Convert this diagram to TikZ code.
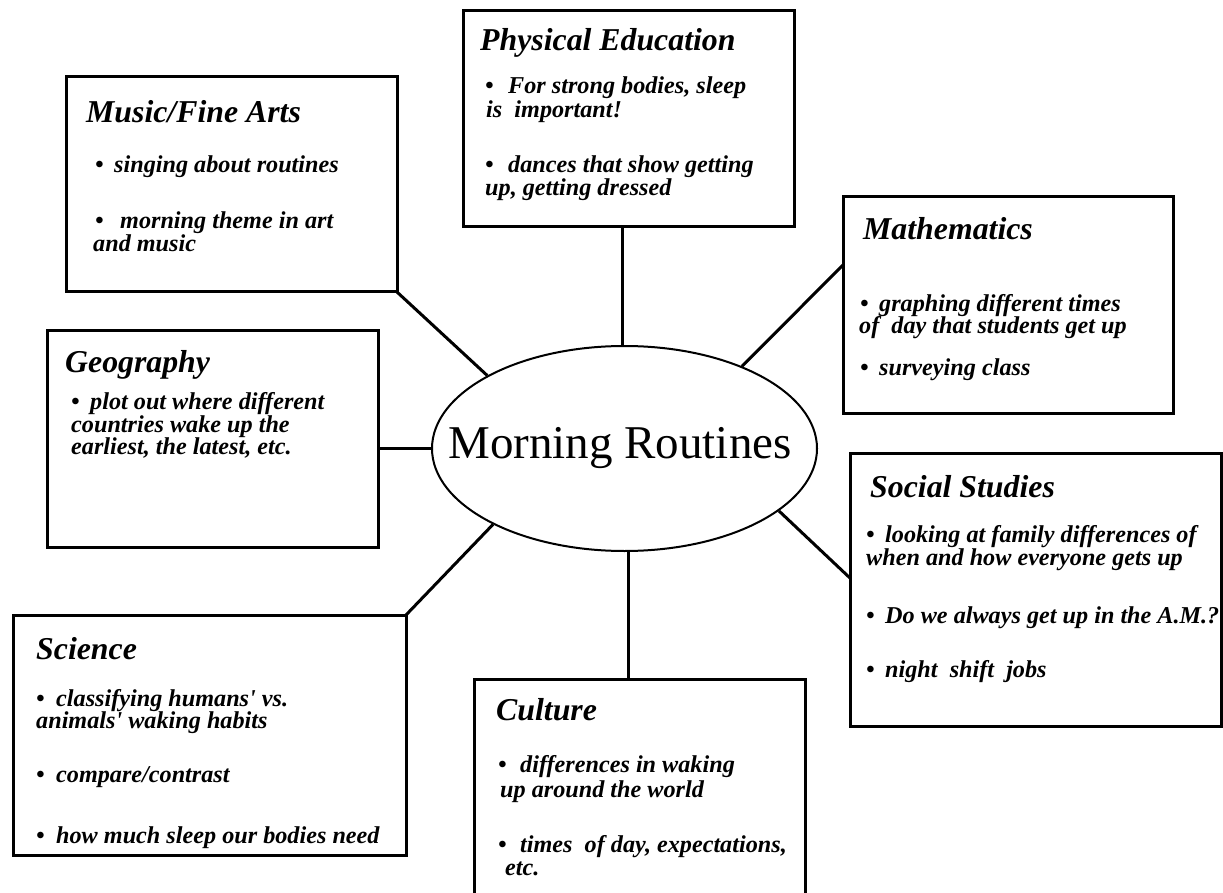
\documentclass[tikz,border=0pt]{standalone}
\usepackage{fontspec}
\setmainfont{Liberation Serif}
\usetikzlibrary{shapes.geometric,calc}
\newcommand\bitem[1][19pt]{\makebox[#1][l]{\textbullet}}
\tikzset{
  box/.style={draw, line width=3pt, inner sep=0pt, outer sep=0pt},
  ttl/.style={anchor=base west, inner sep=0pt, font=\fontsize{31.8}{32}\selectfont\bfseries\itshape},
  txt/.style={anchor=base west, inner sep=0pt, font=\fontsize{24.2}{24}\selectfont\bfseries\itshape},
  link/.style={line width=3pt},
}
\begin{document}
\begin{tikzpicture}[x=1pt,y=-1pt]
\useasboundingbox (0,0) rectangle (1223,893);
\fill[white] (0,0) rectangle (1223,893);
\clip (0,0) rectangle (1223,893);

% central ellipse
\node[ellipse, draw, line width=2pt, minimum width=385pt, minimum height=205pt, inner sep=0pt,
      font=\fontsize{47}{47}\selectfont] (mr) at (624.5,448.5) {\makebox[0pt]{Morning Routines\hspace{9pt}}};

% boxes
\node[box, minimum width=331pt, minimum height=216pt] (pe)   at (628.5,119) {};
\node[box, minimum width=331pt, minimum height=215pt] (mus)  at (231.5,184.5) {};
\node[box, minimum width=330pt, minimum height=216pt] (math) at (1008,305) {};
\node[box, minimum width=331pt, minimum height=217pt] (geo)  at (212.5,438.5) {};
\node[box, minimum width=371pt, minimum height=273pt] (soc)  at (1035.5,589.5) {};
\node[box, minimum width=393pt, minimum height=240pt] (sci)  at (209.5,735) {};
\node[box, minimum width=331pt, minimum height=236pt] (cul)  at (639.5,797) {};

% connectors
\draw[link] (mr.91.4) -- (mr.91.4 |- pe.south);
\draw[link] (mus.south east) -- (mr.152.5);
\draw[link] (mr.35.4) -- ($(math.north west)!0.315!(math.south west)$);
\draw[link] (mr.west -| geo.east) -- (mr.west);
\draw[link] (mr.-22) -- ($(soc.north west)!0.458!(soc.south west)$);
\draw[link] (sci.north east) -- (mr.210.6);
\draw[link] (mr.-88) -- (mr.-88 |- cul.north);

% Physical Education
\node[ttl] (peT) at (480,51) {Physical Education};
\node[txt] (pe1) at (485,94) {\bitem[23pt]For strong bodies, sleep};
\node[txt] (pe2) at (486,118) {is\ \ important!};
\node[txt] (pe3) at (485,173) {\bitem[23pt]dances that show getting};
\node[txt] (pe4) at (485,196) {up, getting dressed};

% Music/Fine Arts
\node[ttl] (musT) at (86,123) {Music/Fine Arts};
\node[txt] (mus1) at (95,173) {\bitem singing about routines};
\node[txt] (mus2) at (95,229) {\bitem[25pt]morning theme in art};
\node[txt] (mus3) at (93,252) {and music};

% Mathematics
\node[ttl] (mathT) at (863,240) {Mathematics};
\node[txt] (math1) at (860,311) {\bitem graphing different times};
\node[txt] (math2) at (859,333) {of\ \ day that students get up};
\node[txt] (math3) at (860,375) {\bitem surveying class};

% Geography
\node[ttl] (geoT) at (65,372) {Geography};
\node[txt] (geo1) at (71,409) {\bitem plot out where different};
\node[txt] (geo2) at (71,432) {countries wake up the};
\node[txt] (geo3) at (71,454) {earliest, the latest, etc.};

% Social Studies
\node[ttl] (socT) at (870,497) {Social Studies};
\node[txt] (soc1) at (866,542) {\bitem looking at family differences of};
\node[txt] (soc2) at (866,565) {when and how everyone gets up};
\node[txt] (soc3) at (866,623) {\bitem Do we always get up in the A.M.?};
\node[txt] (soc4) at (866,677) {\bitem night\ \ shift\ \ jobs};

% Science
\node[ttl] (sciT) at (36,659) {Science};
\node[txt] (sci1) at (36,706) {\bitem[20pt]classifying humans\textquotesingle\ vs.};
\node[txt] (sci2) at (36,728) {animals\textquotesingle\ waking habits};
\node[txt] (sci3) at (36,782) {\bitem[20pt]compare/contrast};
\node[txt] (sci4) at (36,843) {\bitem[20pt]how much sleep our bodies need};

% Culture
\node[ttl] (culT) at (496,720) {Culture};
\node[txt] (cul1) at (498,772) {\bitem[22pt]differences in waking};
\node[txt] (cul2) at (500,797) {up around the world};
\node[txt] (cul3) at (498,852) {\bitem[22pt]times\ \ of day, expectations,};
\node[txt] (cul4) at (505,875) {etc.};
\end{tikzpicture}
\end{document}
